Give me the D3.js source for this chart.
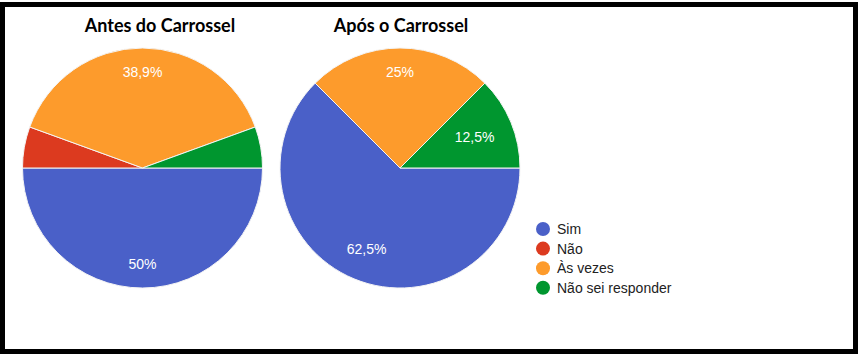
<!DOCTYPE html>
<html><head><meta charset="utf-8">
<script src="https://cdn.jsdelivr.net/npm/d3@7"></script>
<style>html,body{margin:0;padding:0;background:#fff;}svg{display:block;}</style>
</head><body>
<svg id="c" width="860" height="356"></svg>
<script>
const categories = ["Sim", "Não", "Às vezes", "Não sei responder"];
const colors = ["#4a60c8", "#dc3a1f", "#fd9b2c", "#00962f"];
const titles = ["Antes do Carrossel", "Após o Carrossel"];
const antes = [50, 5.55, 38.9, 5.55];
const apos = [62.5, 0, 25, 12.5];
const labelsAntes = ["50%", "", "38,9%", ""];
const labelsApos = ["62,5%", "", "25%", "12,5%"];

const svg = d3.select("#c");
svg.append("rect").attr("x", 2.5).attr("y", 4.5).attr("width", 853).attr("height", 347)
  .attr("fill", "#fff").attr("stroke", "#000").attr("stroke-width", 5);

const R = 120;
const pies = [
  {cx: 142.5, cy: 168, values: antes, labels: labelsAntes, title: titles[0], tx: 160},
  {cx: 400, cy: 168, values: apos, labels: labelsApos, title: titles[1], tx: 401}
];
const pie = d3.pie().sort(null).value(d => d)
  .startAngle(Math.PI / 2).endAngle(Math.PI / 2 + 2 * Math.PI);
const arc = d3.arc().innerRadius(0).outerRadius(R);
const LR = 101;

pies.forEach(p => {
  const g = svg.append("g").attr("transform", `translate(${p.cx},${p.cy})`);
  const arcs = pie(p.values);
  g.selectAll("path").data(arcs).enter().append("path")
    .attr("d", arc).attr("fill", (d, i) => colors[i])
    .attr("stroke", "#f4f4f4").attr("stroke-width", d => d.value > 0 ? 1 : 0);
  arcs.forEach((d, i) => {
    if (!p.labels[i]) return;
    const t = g.append("text").text(p.labels[i])
      .attr("font-family", "Liberation Sans, Arial, sans-serif").attr("font-size", 14)
      .attr("fill", "#fff").attr("text-anchor", "middle");
    const w = t.node().getComputedTextLength();
    const h = 10;
    const a = (d.startAngle + d.endAngle) / 2;
    const ux = Math.sin(a), uy = -Math.cos(a);
    const c1 = Math.sign(Math.round(ux * 1000)) * w / 2, c2 = Math.sign(Math.round(uy * 1000)) * h / 2;
    const B = 2 * (ux * c1 + uy * c2), C = c1 * c1 + c2 * c2 - LR * LR;
    const s = (-B + Math.sqrt(B * B - 4 * C)) / 2;
    const x = s * ux, y = s * uy;
    t.attr("x", x).attr("y", y + h / 2);
  });
  svg.append("text").text(p.title).attr("x", p.tx).attr("y", 32)
    .attr("text-anchor", "middle").attr("font-family", "Lato, Carlito, sans-serif")
    .attr("font-weight", "bold").attr("font-size", 18).attr("fill", "#000");
});

const lg = svg.append("g");
categories.forEach((c, i) => {
  const y = 229 + i * 19.6;
  lg.append("circle").attr("cx", 543).attr("cy", y).attr("r", 7).attr("fill", colors[i]);
  lg.append("text").text(c).attr("x", 557).attr("y", y + 5)
    .attr("font-family", "Liberation Sans, Arial, sans-serif").attr("font-size", 14).attr("fill", "#222");
});
</script>
</body></html>
